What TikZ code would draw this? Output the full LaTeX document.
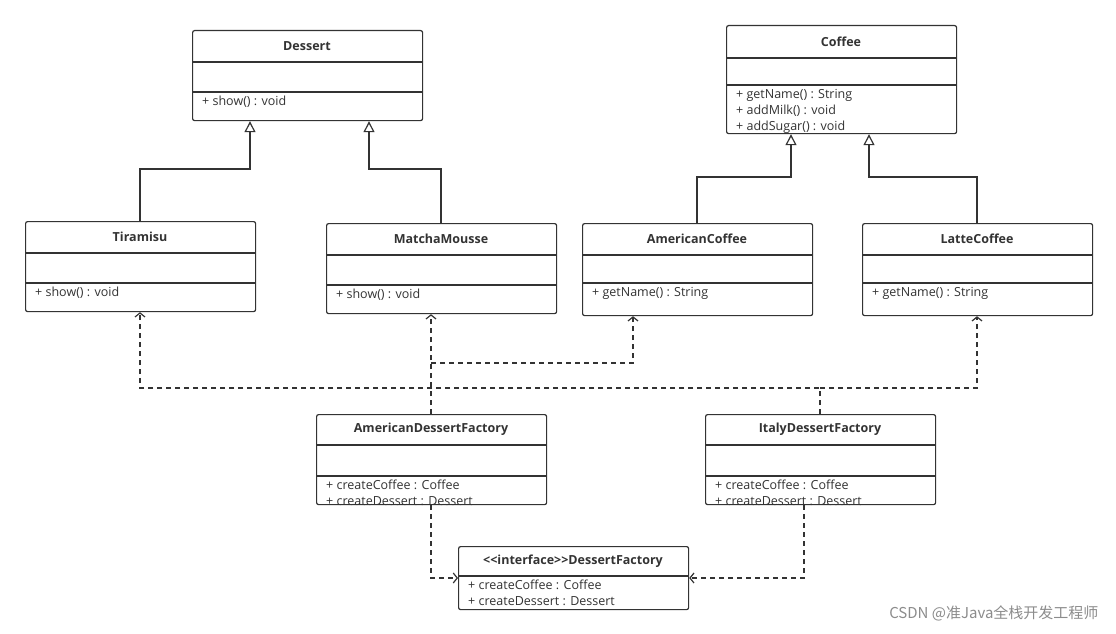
\documentclass[tikz,border=0pt]{standalone}
\usepackage{fontspec}
\setmainfont{Open Sans}
\newfontfamily\cjk{Noto Sans CJK SC}
\usetikzlibrary{arrows.meta}
\definecolor{ln}{HTML}{333333}
\tikzset{
  box/.style={draw=ln,line width=1.2pt,rounded corners=2pt,anchor=north west,inner sep=0pt},
  div/.style={draw=ln,line width=1.2pt},
  ttl/.style={font=\fontsize{12.5}{14}\selectfont\bfseries,text=ln},
  mth/.style={font=\fontsize{12.5}{16}\selectfont,text=ln,anchor=north west,align=left,inner sep=0pt},
  gen/.style={draw=ln,line width=1.2pt,-{Triangle[open,length=11pt,width=11pt]}},
  dep/.style={draw=ln,line width=1.2pt,dash pattern=on 5pt off 4pt,-{Straight Barb[length=4pt,width=10pt]}},
}
% name, l, t, r, b, d1, d2, title, methods
\newcommand\umlbox[9]{%
  \node[box,minimum width=#4-#2,minimum height=#5-#3] (#1) at (#2,#3) {};
  \draw[div] (#2,#6) -- (#4,#6);
  \ifx&#7&\else\draw[div] (#2,#7) -- (#4,#7);\fi
  \node[ttl] at ({(#2+#4)/2},{(#3+#6)/2}) {#8};
  \node[mth] at (#2+10,\ifx&#7&#6\else#7\fi+4) {#9};
}
\begin{document}
\begin{tikzpicture}[x=1pt,y=-1pt]
\useasboundingbox[fill=white] (0,0) rectangle (1116,634);
\umlbox{Des}{192}{30}{422}{120}{62}{92}{Dessert}{+ show() : void}
\umlbox{Cof}{726}{25}{956}{133}{58}{85}{Coffee}{+ getName() : String\\+ addMilk() : void\\+ addSugar() : void}
\umlbox{Tir}{25}{221}{255}{311}{253}{283}{Tiramisu}{+ show() : void}
\umlbox{Mat}{326}{223}{556}{313}{255}{285}{MatchaMousse}{+ show() : void}
\umlbox{AC}{582}{223}{812}{315}{255}{283}{AmericanCoffee}{+ getName() : String}
\umlbox{LC}{862}{223}{1092}{315}{255}{283}{LatteCoffee}{+ getName() : String}
\umlbox{ADF}{316}{414}{546}{504}{445}{476}{AmericanDessertFactory}{+ createCoffee : Coffee\\+ createDessert : Dessert}
\umlbox{IDF}{705}{414}{935}{504}{445}{476}{ItalyDessertFactory}{+ createCoffee : Coffee\\+ createDessert : Dessert}
\umlbox{DF}{458}{546}{688}{609}{576}{}{{<}{<}interface{>}{>}DessertFactory}{+ createCoffee : Coffee\\+ createDessert : Dessert}
% generalization
\draw[gen] ([xshift=115pt]Tir.north west) |- ++(110,-52) -- ([xshift=58pt]Des.south west);
\draw[gen] ([xshift=115pt]Mat.north west) |- ++(-72,-54) -- ([xshift=177pt]Des.south west);
\draw[gen] ([xshift=115pt]AC.north west) |- ++(94,-46) -- ([xshift=65pt]Cof.south west);
\draw[gen] ([xshift=115pt]LC.north west) |- ++(-108,-46) -- ([xshift=143pt]Cof.south west);
% dependencies
\draw[dep] ([xshift=115pt]ADF.north west) -- ([xshift=105pt]Mat.south west);
\coordinate (j1) at (431,363);
\draw[dep] (j1) -| ([xshift=51pt]AC.south west);
\coordinate (j2) at (820,388);
\draw[dep] ([xshift=115pt]IDF.north west) -- (j2) -| ([xshift=115pt]Tir.south west);
\draw[dep] (j2) -| ([xshift=115pt]LC.south west);
\draw[dep] ([xshift=115pt]ADF.south west) |- ([yshift=-32pt]DF.north west);
\draw[dep] ([xshift=99pt]IDF.south west) |- ([yshift=-32pt]DF.north east);
\node[font=\cjk\fontsize{15}{17}\selectfont,text=black!45,anchor=east] (wm) at (1102,613) {CSDN @准Java全栈开发工程师};
\end{tikzpicture}
\end{document}
